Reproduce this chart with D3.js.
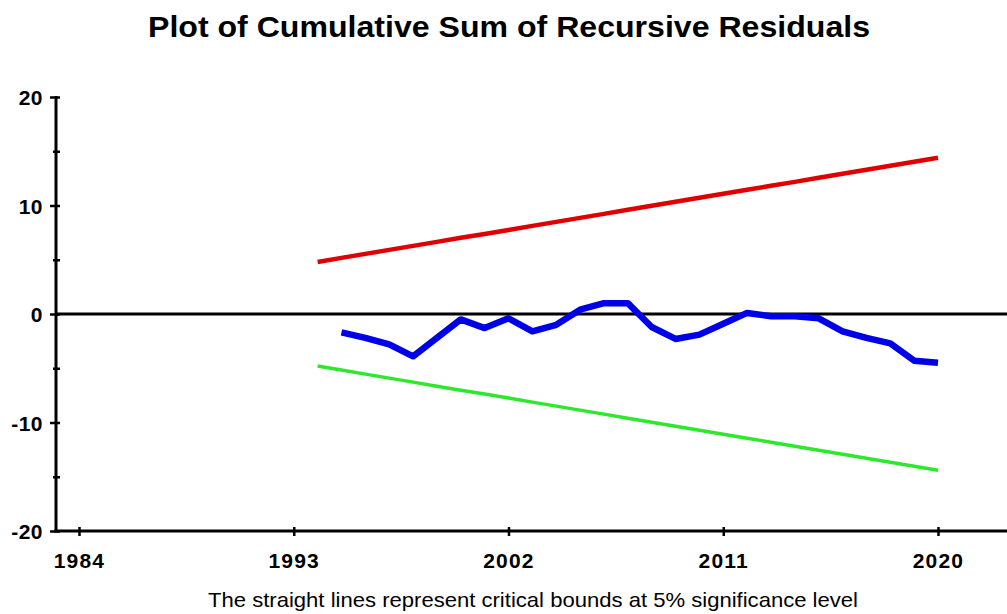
<!DOCTYPE html>
<html><head><meta charset="utf-8">
<script src="https://cdn.jsdelivr.net/npm/d3@7"></script>
<style>body{margin:0;background:#fff;} svg{display:block;}</style>
</head><body>
<svg id="c" width="1007" height="614"></svg>
<script>
// ---- data ----
const boundYears = [1994,1995,1996,1997,1998,1999,2000,2001,2002,2003,2004,2005,2006,2007,2008,2009,2010,2011,2012,2013,2014,2015,2016,2017,2018,2019,2020];
const upperBound = [4.80,5.17,5.54,5.91,6.28,6.65,7.02,7.38,7.75,8.12,8.49,8.86,9.23,9.60,9.97,10.34,10.71,11.08,11.45,11.82,12.18,12.55,12.92,13.29,13.66,14.03,14.40];
const lowerBound = [-4.80,-5.17,-5.54,-5.91,-6.28,-6.65,-7.02,-7.38,-7.75,-8.12,-8.49,-8.86,-9.23,-9.60,-9.97,-10.34,-10.71,-11.08,-11.45,-11.82,-12.18,-12.55,-12.92,-13.29,-13.66,-14.03,-14.40];
const cusumYears = [1995,1996,1997,1998,1999,2000,2001,2002,2003,2004,2005,2006,2007,2008,2009,2010,2011,2012,2013,2014,2015,2016,2017,2018,2019,2020];
const cusum = [-1.7,-2.2,-2.8,-3.9,-2.2,-0.5,-1.3,-0.4,-1.6,-1.0,0.4,1.0,1.0,-1.2,-2.3,-1.9,-0.9,0.1,-0.2,-0.2,-0.4,-1.6,-2.2,-2.7,-4.3,-4.5];
const xTickValues = [1984,1993,2002,2011,2020];
const yTickValues = [-20,-15,-10,-5,0,5,10,15,20];
const yLabelValues = [-20,-10,0,10,20];
const titleText = "Plot of Cumulative Sum of Recursive Residuals";
const noteText = "The straight lines represent critical bounds at 5% significance level";

// ---- layout ----
const svg = d3.select("#c");
const axisX = 56, axisBottom = 531, axisRight = 1007;
const x = d3.scaleLinear().domain([1984, 2020]).range([79, 938]);
const y = d3.scaleLinear().domain([-20, 20]).range([531, 97]);
const font = "'Liberation Sans', Arial, sans-serif";

// title
svg.append("text").attr("x", 509).attr("y", 37)
  .attr("text-anchor", "middle").attr("font-family", font)
  .attr("font-weight", "bold").attr("font-size", 30).attr("fill", "#000")
  .attr("textLength", 722).attr("lengthAdjust", "spacingAndGlyphs").text(titleText);

// footnote
svg.append("text").attr("x", 533).attr("y", 607)
  .attr("text-anchor", "middle").attr("font-family", font)
  .attr("font-size", 21).attr("fill", "#000")
  .attr("textLength", 650).attr("lengthAdjust", "spacingAndGlyphs").text(noteText);

// zero line
svg.append("line").attr("x1", axisX).attr("x2", axisRight)
  .attr("y1", y(0)).attr("y2", y(0)).attr("stroke", "#000").attr("stroke-width", 3);

// y axis
const yAxis = d3.axisLeft(y).tickValues(yTickValues).tickSize(0)
  .tickFormat(d => yLabelValues.includes(d) ? String(d) : "");
const gy = svg.append("g").attr("transform", `translate(${axisX},0)`).call(yAxis);
gy.select(".domain").remove();
gy.selectAll(".tick text").attr("x", -13).attr("dy", "0.36em")
  .attr("font-family", font).attr("font-weight", "bold").attr("font-size", 21).attr("fill", "#000")
  .attr("letter-spacing", 0.5);
gy.selectAll(".tick").append("line")
  .attr("x1", d => yLabelValues.includes(d) ? -6 : -3).attr("x2", 4)
  .attr("stroke", "#000").attr("stroke-width", 2.5);
svg.append("line").attr("x1", axisX).attr("x2", axisX).attr("y1", y(20) - 1).attr("y2", axisBottom + 1.5)
  .attr("stroke", "#000").attr("stroke-width", 3);

// x axis
const xAxis = d3.axisBottom(x).tickValues(xTickValues).tickSize(0).tickFormat(d3.format("d"));
const gx = svg.append("g").attr("transform", `translate(0,${axisBottom})`).call(xAxis);
gx.select(".domain").remove();
gx.selectAll(".tick text").attr("y", 29).attr("dy", "0.36em")
  .attr("font-family", font).attr("font-weight", "bold").attr("font-size", 21).attr("fill", "#000")
  .attr("letter-spacing", 1.2);
gx.selectAll(".tick").append("line").attr("y1", -4).attr("y2", 5)
  .attr("stroke", "#000").attr("stroke-width", 2.5);
svg.append("line").attr("x1", axisX - 1.5).attr("x2", axisRight).attr("y1", axisBottom).attr("y2", axisBottom)
  .attr("stroke", "#000").attr("stroke-width", 3);

// series
const line = d3.line().x(d => x(d[0])).y(d => y(d[1]));
svg.append("path").datum(d3.zip(boundYears, upperBound)).attr("d", line)
  .attr("fill", "none").attr("stroke", "#e00000").attr("stroke-width", 4.5);
svg.append("path").datum(d3.zip(boundYears, lowerBound)).attr("d", line)
  .attr("fill", "none").attr("stroke", "#2ee82e").attr("stroke-width", 3.5);
svg.append("path").datum(d3.zip(cusumYears, cusum)).attr("d", line)
  .attr("fill", "none").attr("stroke", "#0000e8").attr("stroke-width", 6.5)
  .attr("stroke-linejoin", "round").attr("stroke-linecap", "butt");
</script>
</body></html>
